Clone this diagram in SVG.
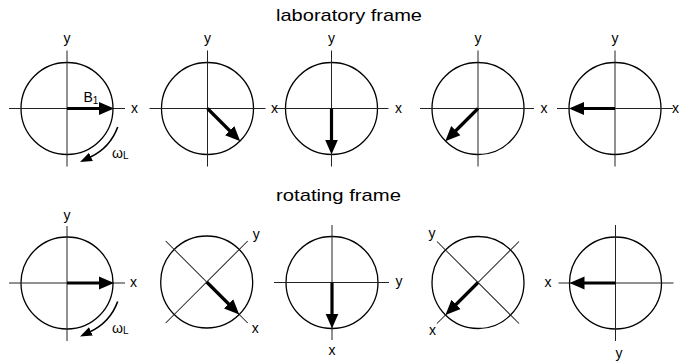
<svg xmlns="http://www.w3.org/2000/svg" width="679" height="362" viewBox="0 0 679 362">
<defs>
<marker id="head" markerUnits="userSpaceOnUse" markerWidth="18" markerHeight="16" viewBox="0 -8 18 16" refX="4" refY="0" orient="auto"><path d="M0,-6.5 L15,0 L0,6.5 z" fill="#000"/></marker>
<marker id="headSm" markerUnits="userSpaceOnUse" markerWidth="14" markerHeight="12" viewBox="0 -6 14 12" refX="1" refY="0" orient="auto"><path d="M0,-4.5 L12,0 L0,4.5 z" fill="#000"/></marker>
</defs>
<style>
.c{fill:none;stroke:#000;stroke-width:1.3}
.ax{stroke:#222;stroke-width:1}
.v{stroke:#000;stroke-width:3.2;marker-end:url(#head)}
.w{fill:none;stroke:#000;stroke-width:1.6;marker-end:url(#headSm)}
text{font-family:"Liberation Sans",Arial,sans-serif;font-size:14px;fill:#000}
.t{font-size:17px}
.m{text-anchor:middle}
.e{text-anchor:end}
.sub{font-size:10px}
</style>
<rect width="679" height="362" fill="#fff"/>
<text id="title-lab" x="276" y="21" class="t" textLength="146" lengthAdjust="spacingAndGlyphs">laboratory frame</text>
<text id="title-rot" x="276" y="201" class="t" textLength="125" lengthAdjust="spacingAndGlyphs">rotating frame</text>

<g id="lab1" transform="translate(67,108.5)">
<circle class="c" r="46"/>
<line class="ax" x1="-58" y1="0" x2="58" y2="0"/>
<line class="ax" x1="0" y1="-58" x2="0" y2="58"/>
<line class="v" x1="0" y1="0" x2="36" y2="0"/>
<text class="m" x="0" y="-65.5">y</text>
<text x="64" y="4">x</text>
<text x="16.5" y="-7">B<tspan class="sub" dy="2">1</tspan></text>
<path class="w" d="M50.7,18.5 A54,54 0 0 1 23,48.8"/>
<text x="45" y="49.5">ω<tspan class="sub" dy="1">L</tspan></text>
</g>

<g id="lab2" transform="translate(207.5,108.5)">
<circle class="c" r="46"/>
<line class="ax" x1="-58" y1="0" x2="58" y2="0"/>
<line class="ax" x1="0" y1="-58" x2="0" y2="58"/>
<line class="v" x1="0" y1="0" x2="25" y2="25"/>
<text class="m" x="0" y="-65.5">y</text>
<text x="63.5" y="4">x</text>
</g>

<g id="lab3" transform="translate(331.5,108.5)">
<circle class="c" r="46"/>
<line class="ax" x1="-57" y1="0" x2="57" y2="0"/>
<line class="ax" x1="0" y1="-58" x2="0" y2="58"/>
<line class="v" x1="0" y1="0" x2="0" y2="35"/>
<text class="m" x="0" y="-65.5">y</text>
<text x="63.5" y="4">x</text>
</g>

<g id="lab4" transform="translate(478,108.5)">
<circle class="c" r="46"/>
<line class="ax" x1="-58" y1="0" x2="56" y2="0"/>
<line class="ax" x1="0" y1="-58" x2="0" y2="58"/>
<line class="v" x1="0" y1="0" x2="-25" y2="25"/>
<text class="m" x="0" y="-65.5">y</text>
<text x="62.5" y="4">x</text>
</g>

<g id="lab5" transform="translate(615,108.5)">
<circle class="c" r="46"/>
<line class="ax" x1="-58" y1="0" x2="58" y2="0"/>
<line class="ax" x1="0" y1="-58" x2="0" y2="58"/>
<line class="v" x1="0" y1="0" x2="-35" y2="0"/>
<text class="m" x="0" y="-65.5">y</text>
<text x="57" y="4">x</text>
</g>

<g id="rot1" transform="translate(67,283)">
<circle class="c" r="46"/>
<line class="ax" x1="-58" y1="0" x2="58" y2="0"/>
<line class="ax" x1="0" y1="-57" x2="0" y2="58"/>
<line class="v" x1="0" y1="0" x2="36" y2="0"/>
<text class="m" x="0" y="-63.5">y</text>
<text x="63" y="4">x</text>
<path class="w" d="M50.7,18.5 A54,54 0 0 1 23,48.8"/>
<text x="45" y="50">ω<tspan class="sub" dy="1">L</tspan></text>
</g>

<g id="rot2" transform="translate(206.7,282)">
<circle class="c" r="46"/>
<g transform="rotate(45)">
<line class="ax" x1="-58" y1="0" x2="58" y2="0"/>
<line class="ax" x1="0" y1="-58" x2="0" y2="58"/>
<line class="v" x1="0" y1="0" x2="35" y2="0"/>
</g>
<text x="45" y="50.5">x</text>
<text x="46" y="-43">y</text>
</g>

<g id="rot3" transform="translate(332,282.5)">
<circle class="c" r="46"/>
<line class="ax" x1="-58" y1="0" x2="57" y2="0"/>
<line class="ax" x1="0" y1="-57.5" x2="0" y2="57.5"/>
<line class="v" x1="0" y1="0" x2="0" y2="35"/>
<text x="63.5" y="3.5">y</text>
<text class="m" x="0" y="72.5">x</text>
</g>

<g id="rot4" transform="translate(478,282.5)">
<circle class="c" r="46"/>
<g transform="rotate(135)">
<line class="ax" x1="-58" y1="0" x2="58" y2="0"/>
<line class="ax" x1="0" y1="-58" x2="0" y2="58"/>
<line class="v" x1="0" y1="0" x2="35" y2="0"/>
</g>
<text class="m" x="-46" y="-45">y</text>
<text class="m" x="-45.5" y="52.5">x</text>
</g>

<g id="rot5" transform="translate(615.5,283)">
<circle class="c" r="46"/>
<line class="ax" x1="-57" y1="0" x2="58" y2="0"/>
<line class="ax" x1="0" y1="-58" x2="0" y2="58"/>
<line class="v" x1="0" y1="0" x2="-35" y2="0"/>
<text class="e" x="-64" y="3.5">x</text>
<text x="0" y="75">y</text>
</g>
</svg>
